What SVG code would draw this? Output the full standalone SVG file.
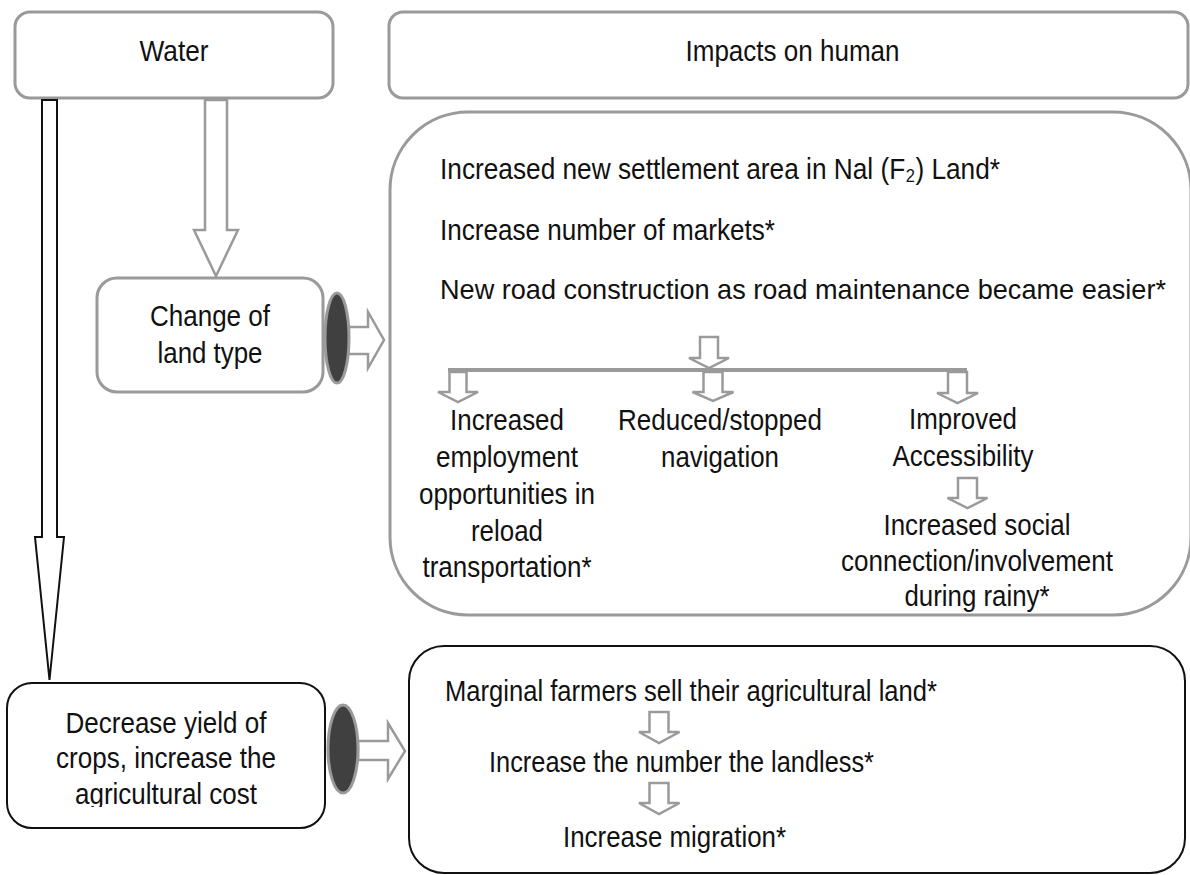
<svg xmlns="http://www.w3.org/2000/svg" width="1190" height="875" viewBox="0 0 1190 875">
<style>
.g{fill:#fff;stroke:#9a9a9a;stroke-width:3}
.k{fill:#fff;stroke:#111;stroke-width:2}
.t{font-family:"Liberation Sans Narrow","Liberation Sans",Arial,sans-serif;font-size:30px;fill:#111}
.m{text-anchor:middle}
.ga{fill:#fff;stroke:#9a9a9a;stroke-width:2.5}
.ka{fill:#fff;stroke:#111;stroke-width:2}
.el{fill:#404040;stroke:#9a9a9a;stroke-width:3}
</style>
<defs>
<clipPath id="clipDec"><rect x="0" y="680" width="330" height="127"/></clipPath>
</defs>
<rect width="1190" height="875" fill="#fff"/>

<g id="water">
<rect class="g" x="15" y="12" width="318" height="86" rx="15"/>
<text class="t m" x="174" y="61" textLength="69" lengthAdjust="spacingAndGlyphs">Water</text>
</g>

<g id="impacts">
<rect class="g" x="389" y="12" width="799" height="86" rx="14"/>
<text class="t m" x="792.5" y="61" textLength="214" lengthAdjust="spacingAndGlyphs">Impacts on human</text>
</g>

<g id="change">
<rect class="g" x="97" y="278" width="226" height="114" rx="20"/>
<text class="t m" x="210" y="326" textLength="120" lengthAdjust="spacingAndGlyphs">Change of</text>
<text class="t m" x="210" y="363" textLength="105" lengthAdjust="spacingAndGlyphs">land type</text>
</g>

<g id="decrease">
<rect class="k" x="7" y="683" width="318" height="145" rx="25"/>
<g clip-path="url(#clipDec)">
<text class="t m" x="166" y="733" textLength="201" lengthAdjust="spacingAndGlyphs">Decrease yield of</text>
<text class="t m" x="166" y="768" textLength="220" lengthAdjust="spacingAndGlyphs">crops, increase the</text>
<text class="t m" x="166" y="804" textLength="182" lengthAdjust="spacingAndGlyphs">agricultural cost</text>
</g>
</g>

<g id="landImpacts">
<rect class="g" x="390" y="112" width="801" height="503" rx="78"/>
<text class="t" x="440" y="179" textLength="560" lengthAdjust="spacingAndGlyphs">Increased new settlement area in Nal (F₂) Land*</text>
<text class="t" x="440" y="240" textLength="335" lengthAdjust="spacingAndGlyphs">Increase number of markets*</text>
<text class="t" x="440" y="299" font-size="27.5" style="font-size:27.5px" textLength="726" lengthAdjust="spacingAndGlyphs">New road construction as road maintenance became easier*</text>
</g>

<g id="employment">
<text class="t m" x="507" y="430" textLength="114" lengthAdjust="spacingAndGlyphs">Increased</text>
<text class="t m" x="507" y="467" textLength="142" lengthAdjust="spacingAndGlyphs">employment</text>
<text class="t m" x="507" y="504" textLength="176" lengthAdjust="spacingAndGlyphs">opportunities in</text>
<text class="t m" x="507" y="541" textLength="72" lengthAdjust="spacingAndGlyphs">reload</text>
<text class="t m" x="507" y="577" textLength="169" lengthAdjust="spacingAndGlyphs">transportation*</text>
</g>

<g id="navigation">
<text class="t m" x="720" y="430" textLength="204" lengthAdjust="spacingAndGlyphs">Reduced/stopped</text>
<text class="t m" x="720" y="467" textLength="118" lengthAdjust="spacingAndGlyphs">navigation</text>
</g>

<g id="accessibility">
<text class="t m" x="963" y="429" textLength="108" lengthAdjust="spacingAndGlyphs">Improved</text>
<text class="t m" x="963" y="466" textLength="141" lengthAdjust="spacingAndGlyphs">Accessibility</text>
</g>

<g id="social">
<text class="t m" x="977" y="535" textLength="187" lengthAdjust="spacingAndGlyphs">Increased social</text>
<text class="t m" x="977" y="571" textLength="272" lengthAdjust="spacingAndGlyphs">connection/involvement</text>
<text class="t m" x="977" y="606" textLength="145" lengthAdjust="spacingAndGlyphs">during rainy*</text>
</g>

<g id="agriImpacts">
<rect class="k" x="409" y="646" width="776" height="227" rx="35"/>
<text class="t" x="445" y="701" textLength="492" lengthAdjust="spacingAndGlyphs">Marginal farmers sell their agricultural land*</text>
<text class="t" x="489" y="772" textLength="385" lengthAdjust="spacingAndGlyphs">Increase the number the landless*</text>
<text class="t" x="563" y="847" textLength="223" lengthAdjust="spacingAndGlyphs">Increase migration*</text>
</g>

<g id="connectors">
<path class="ga" d="M205,100 L227,100 L227,230 L238,230 L216,276 L194,230 L205,230 Z"/>
<path class="ka" d="M42,100 L57,100 L57,537 L64,537 L49.5,680 L35,537 L42,537 Z"/>
<path class="ga" d="M700,337 L718,337 L718,358 L729,358 L709,368 L689,358 L700,358 Z"/>
<line x1="448" y1="370" x2="967" y2="370" stroke="#9a9a9a" stroke-width="4"/>
<path class="ga" d="M449.5,372 L466.5,372 L466.5,392 L478,392 L458,402 L438,392 L449.5,392 Z"/>
<path class="ga" d="M703.5,372 L722.5,372 L722.5,392 L733.5,392 L713,401 L692.5,392 L703.5,392 Z"/>
<path class="ga" d="M948,372 L967,372 L967,393 L978,393 L957.5,403 L937,393 L948,393 Z"/>
<path class="ga" d="M958,478 L977,478 L977,498 L987.5,498 L967.5,508 L947.5,498 L958,498 Z"/>
<path class="ga" d="M649.5,712 L668.5,712 L668.5,732 L679.5,732 L659,743 L639,732 L649.5,732 Z"/>
<path class="ga" d="M649.5,783 L668.5,783 L668.5,803 L679.5,803 L659,814 L639,803 L649.5,803 Z"/>
<path class="ga" d="M348,327 L368,327 L368,312 L384,340 L368,368 L368,354 L348,354 Z"/>
<path class="ga" d="M358,741 L388,741 L388,723 L405,751 L388,779 L388,760 L358,760 Z"/>
<ellipse class="el" cx="337" cy="338" rx="12" ry="45"/>
<ellipse class="el" cx="343" cy="749" rx="15" ry="44"/>
</g>
</svg>
